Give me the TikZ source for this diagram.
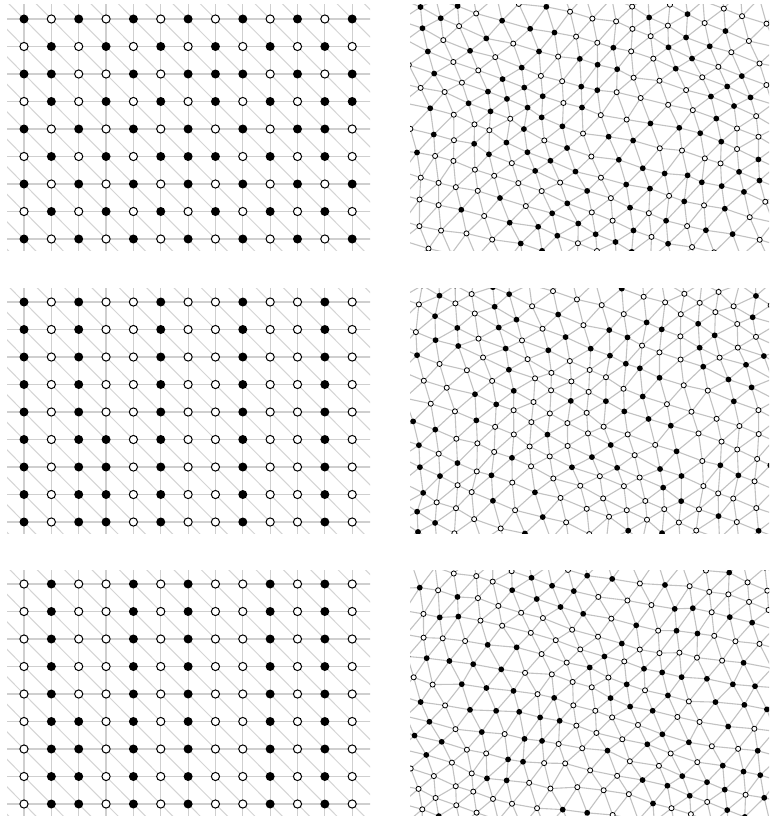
\documentclass[tikz,border=0pt]{standalone}
\tikzset{
  gridline/.style={draw=black!19, line width=1.2pt},
  diagline/.style={draw=black!17, line width=1pt},
  bdot/.style={circle, fill=black, inner sep=0pt, minimum size=9pt},
  wdot/.style={circle, draw=black, fill=white, line width=1pt, inner sep=0pt, minimum size=8.2pt},
  tedge/.style={draw=black!24, line width=1.1pt},
  sbdot/.style={circle, fill=black, inner sep=0pt, minimum size=5.8pt},
  swdot/.style={circle, draw=black, fill=white, line width=0.8pt, inner sep=0pt, minimum size=5.1pt},
}
\newcommand\sqpanel[3]{%
  \begin{scope}
    \clip (7,#1-14) rectangle (370,#1+231);
    \foreach \j in {0,...,8} \draw[gridline] (0,#1+27.5*\j) -- (380,#1+27.5*\j);
    \foreach \i in {0,...,12} \draw[gridline] (24+27.35*\i,#1-20) -- (24+27.35*\i,#1+240);
    \foreach \k in {-10,...,13} \draw[diagline] (24+27.35*\k-27.35*2,#1-2*27.5) -- ++(27.35*14,27.5*14);
  \end{scope}
  \foreach \row [count=\j from 0] in {#3} {
    \foreach \c [count=\i from 0] in \row {
      \ifnum\c=1
        \node[bdot] (#2-\i-\j) at (24+27.35*\i,#1+27.5*\j) {};
      \else
        \node[wdot] (#2-\i-\j) at (24+27.35*\i,#1+27.5*\j) {};
      \fi
    }
  }
}
% #1 top, #2 name, #3 angle, #4 seed, #5 phase of smooth warp
\newcommand\tripanel[5]{%
  \begin{scope}
    \clip (410,#1-14) rectangle (769,#1+231);
    \pgfmathsetseed{#4}
    \foreach \i in {-11,...,11}{\foreach \j in {-13,...,13}{%
      \pgfmathsetmacro\lx{23*\i+11.5*mod(\j+100,2)}%
      \pgfmathsetmacro\ly{19.9*\j}%
      \pgfmathsetmacro\qx{590+\lx*cos(#3)-\ly*sin(#3)}%
      \pgfmathsetmacro\qy{#1+108+\lx*sin(#3)+\ly*cos(#3)}%
      \pgfmathsetmacro\px{\qx+6*sin(1.9*\qy+1.3*\qx+#5)+2.2*rand}%
      \pgfmathsetmacro\py{\qy+6*cos(1.5*\qx-1.1*\qy+2*#5)+2.2*rand}%
      \pgfmathtruncatemacro\vis{(\px>380)&&(\px<800)&&(\py>#1-45)&&(\py<#1+262)}%
      \pgfmathtruncatemacro\vist{(\px>404)&&(\px<775)&&(\py>#1-20)&&(\py<#1+237)}%
      \expandafter\xdef\csname vis#2-\i-\j\endcsname{\vis}%
      \expandafter\xdef\csname vist#2-\i-\j\endcsname{\vist}%
      \coordinate (#2-\i-\j) at (\px,\py);
    }}
    \xdef\tedges{}%
    \foreach \i in {-11,...,11}{\foreach \j in {-13,...,13}{%
      \pgfmathtruncatemacro\ip{\i+1}%
      \pgfmathtruncatemacro\im{\i-1}%
      \pgfmathtruncatemacro\jp{\j+1}%
      \pgfmathtruncatemacro\pty{mod(\j+100,2)}%
      \edef\tmpv{\csname vis#2-\i-\j\endcsname}%
      \ifnum\tmpv=1
        \ifnum\i<11 \xdef\tedges{\tedges (#2-\i-\j)--(#2-\ip-\j)}\fi
        \ifnum\j<13
          \xdef\tedges{\tedges (#2-\i-\j)--(#2-\i-\jp)}%
          \ifnum\pty=0
            \ifnum\i>-11 \xdef\tedges{\tedges (#2-\i-\j)--(#2-\im-\jp)}\fi
          \else
            \ifnum\i<11 \xdef\tedges{\tedges (#2-\i-\j)--(#2-\ip-\jp)}\fi
          \fi
        \fi
      \fi
    }}
    \draw[tedge] \tedges;
    \foreach \i in {-11,...,11}{\foreach \j in {-13,...,13}{%
      \pgfmathtruncatemacro\bw{rand>0.1 ? 1 : 0}%
      \edef\tmpv{\csname vist#2-\i-\j\endcsname}%
      \ifnum\tmpv=1
        \ifnum\bw=1
          \node[sbdot] (#2d-\i-\j) at (#2-\i-\j) {};
        \else
          \node[swdot] (#2d-\i-\j) at (#2-\i-\j) {};
        \fi
      \fi
    }}
  \end{scope}
}
\begin{document}
\begin{tikzpicture}[x=1pt,y=-1pt]
\useasboundingbox[fill=white] (0,0) rectangle (769,816);
% left square lattices
\sqpanel{19}{A}{
 {1,0,1,0,1,0,1,0,1,0,1,0,1},
 {0,1,0,1,0,1,0,1,0,1,0,1,0},
 {1,1,0,0,1,0,1,1,1,0,1,0,1},
 {0,1,0,1,0,1,0,1,0,1,0,1,1},
 {1,0,1,0,1,0,1,0,1,0,1,1,0},
 {0,1,0,1,0,1,1,1,0,1,0,1,0},
 {1,0,1,0,1,0,1,0,1,0,1,0,1},
 {0,1,0,1,0,1,0,1,0,1,0,1,0},
 {1,0,1,0,1,0,1,0,1,0,1,0,1}}
\sqpanel{302}{B}{
 {1,0,1,0,0,1,0,0,1,0,0,1,0},
 {1,0,1,0,0,1,0,0,1,0,0,1,0},
 {1,0,1,0,0,1,0,0,1,0,0,1,0},
 {1,0,1,0,0,1,0,0,1,0,0,1,0},
 {1,0,1,0,0,1,0,0,1,0,0,1,0},
 {1,0,1,1,0,1,0,0,1,0,0,1,0},
 {1,0,1,1,0,1,0,0,1,0,0,1,0},
 {1,0,1,1,0,1,0,0,1,0,0,1,0},
 {1,0,1,1,0,1,0,0,1,0,0,1,0}}
\sqpanel{584}{C}{
 {0,1,0,0,1,0,1,0,0,1,0,1,0},
 {0,1,0,0,1,0,1,0,0,1,0,1,0},
 {0,1,0,0,1,0,1,0,0,1,0,1,0},
 {0,1,0,0,1,0,1,0,0,1,0,1,0},
 {0,1,0,0,1,0,1,0,0,1,0,1,0},
 {0,1,1,0,1,0,1,0,0,1,0,1,0},
 {0,1,1,0,1,0,1,0,0,1,0,1,0},
 {0,1,1,0,1,0,1,0,0,1,0,1,0},
 {0,1,1,0,1,0,1,0,0,1,0,1,0}}
% right triangulations
\tripanel{19}{P}{18}{11}{0}
\tripanel{302}{Q}{24}{23}{120}
\tripanel{584}{R}{13}{37}{240}
\end{tikzpicture}
\end{document}
